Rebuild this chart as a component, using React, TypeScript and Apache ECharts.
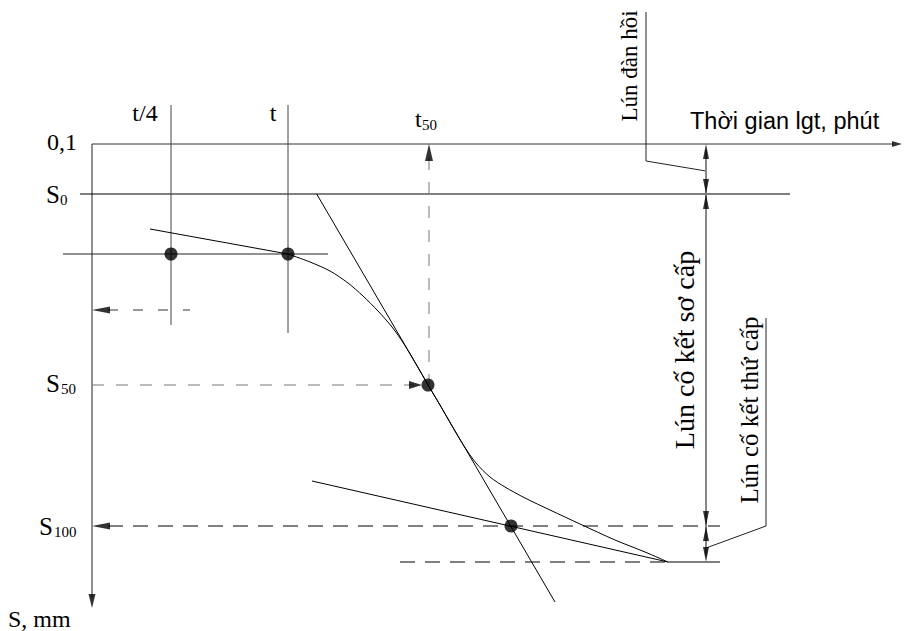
import React, { useEffect, useRef } from "react";
import * as echarts from "echarts";

// ---- Diagram data (diagram units = page pixels, y grows downward) ----
const axisTime = [[92, 144], [893, 144]];
const axisSettlement = [[92, 144], [92, 598]];
const lineS0 = [[80, 194], [790, 194]];
const lineTQuarter = [[171, 105], [171, 325]];
const lineT = [[288, 105], [288, 333]];
const lineInitial = [[63, 254], [328, 254]];
const tangentStart = [[150, 229], [288, 254]];
const consolidationCurve = [
  [288, 254], [310, 262], [330, 271], [348, 283], [363, 296], [378, 311],
  [392, 327], [404, 344], [416, 364], [428, 385], [440, 405], [452, 426],
  [464, 446], [476, 463], [490, 477], [505, 487], [525, 498], [550, 510],
  [580, 524], [615, 540], [645, 552], [668, 562],
];
const tangentInflection = [[316.7, 194], [555, 602]];
const tangentSecondary = [[312, 481], [668, 562]];
const lineEnd = [[668, 562], [720, 562]];
const leaderElastic = [[646, 12], [646, 161], [706, 171]];
const leaderSecondary = [[706, 548], [766, 526], [766, 318]];
const dimensionLine = [[706, 150], [706, 556]];

const dashTQuarter = [[108, 310], [190, 310]];
const dashS50 = [[92, 385], [414, 385]];
const dashT50 = [[429, 158], [429, 385]];
const dashS100 = [[108, 526], [720, 526]];
const dashEnd = [[400, 562], [668, 562]];

const keyPoints = [[171, 254], [288, 254], [428, 385], [511, 526]];

// arrow tips: [x, y, direction, width, length]
const arrowTips: [number, number, string, number, number][] = [
  [92, 608, "down", 7, 14],
  [902, 144, "right", 6, 10],
  [92, 310, "left", 7, 18],
  [422, 385, "right", 8, 13],
  [429, 144, "up", 8, 17],
  [92, 526, "left", 7, 18],
  [706, 144, "up", 6, 15],
  [706, 194, "down", 6, 15],
  [706, 194, "up", 6, 15],
  [706, 526, "down", 6, 15],
  [706, 526, "up", 6, 15],
  [706, 562, "down", 6, 15],
];

const SERIF = "'Liberation Serif', 'Times New Roman', serif";
const SANS = "'Liberation Sans', Arial, sans-serif";

function solid(data: number[][], color = "#000", width = 1, smooth: boolean | number = false) {
  return {
    type: "line",
    data,
    symbol: "none",
    smooth,
    silent: true,
    lineStyle: { color, width, type: "solid" },
  };
}
function dashed(data: number[][], color = "#000", dash = [14, 10]) {
  return {
    type: "line",
    data,
    symbol: "none",
    silent: true,
    lineStyle: { color, width: 1, type: dash },
  };
}

const dirVec: Record<string, [number, number, number]> = {
  up: [0, -1, 0],
  down: [0, 1, 180],
  left: [-1, 0, 90],
  right: [1, 0, -90],
};

function txt(text: string, x: number, y: number, size: number, opts: any = {}) {
  return {
    type: "text",
    x,
    y,
    rotation: opts.rotation || 0,
    silent: true,
    style: {
      text,
      fill: "#000",
      font: `${size}px ${opts.font || SERIF}`,
      textAlign: opts.align || "left",
      textVerticalAlign: "middle",
    },
  };
}

export default function App() {
  const ref = useRef<HTMLDivElement>(null);
  useEffect(() => {
    if (!ref.current) return;
    const chart = echarts.init(ref.current, null, { renderer: "svg" });

    const arrowSeries = arrowTips.map(([x, y, dir, w, l]) => {
      const [dx, dy, rot] = dirVec[dir];
      return {
        type: "scatter",
        silent: true,
        symbol: "triangle",
        symbolSize: [w, l],
        symbolRotate: rot,
        itemStyle: { color: "#000" },
        data: [[x - (dx * l) / 2, y - (dy * l) / 2]],
        z: 5,
      };
    });

    chart.setOption({
      animation: false,
      grid: { left: 0, right: 0, top: 0, bottom: 0, containLabel: false },
      xAxis: { type: "value", min: 0, max: 904, show: false },
      yAxis: { type: "value", min: 0, max: 631, inverse: true, show: false },
      series: [
        solid(axisTime, "#333"),
        solid(axisSettlement, "#222"),
        solid(lineS0),
        solid(lineTQuarter, "#444"),
        solid(lineT, "#444"),
        solid(lineInitial, "#222"),
        solid(tangentStart),
        solid(consolidationCurve, "#000", 1, 0.3),
        solid(tangentInflection),
        solid(tangentSecondary),
        solid(lineEnd),
        solid(leaderElastic, "#222"),
        solid(leaderSecondary, "#222"),
        solid(dimensionLine, "#888", 2),
        dashed(dashTQuarter, "#333", [10, 15]),
        dashed(dashS50, "#777", [12, 12]),
        dashed(dashT50, "#777", [12, 12]),
        dashed(dashS100, "#000", [15, 10]),
        dashed(dashEnd, "#000", [15, 10]),
        {
          type: "scatter",
          silent: true,
          symbol: "circle",
          symbolSize: 13,
          itemStyle: { color: "#000" },
          data: keyPoints,
          z: 6,
        },
        ...arrowSeries,
      ],
      graphic: [
        txt("0,1", 77, 142, 24, { align: "right" }),
        txt("t/4", 145, 113, 24, { align: "center" }),
        txt("t", 273, 113, 24, { align: "center" }),
        txt("t", 415, 119, 24),
        txt("50", 422, 125, 15),
        txt("S", 46, 194, 25),
        txt("0", 60, 200, 15),
        txt("S", 46, 383, 25),
        txt("50", 61, 389, 15),
        txt("S", 39, 526, 25),
        txt("100", 54, 532, 15),
        txt("S, mm", 8, 619, 24),
        txt("Thời gian lgt, phút", 690, 121, 23.5, { font: SANS }),
        txt("Lún đàn hồi", 629, 66, 23, { align: "center", rotation: Math.PI / 2 }),
        txt("Lún cố kết sơ cấp", 684, 350, 28, { align: "center", rotation: Math.PI / 2 }),
        txt("Lún cố kết thứ cấp", 749, 410, 25, { align: "center", rotation: Math.PI / 2 }),
      ],
    });
    return () => chart.dispose();
  }, []);
  return (
    <div
      ref={ref}
      style={{ position: "absolute", left: 0, top: 0, width: 904, height: 631, background: "#fff" }}
    />
  );
}
